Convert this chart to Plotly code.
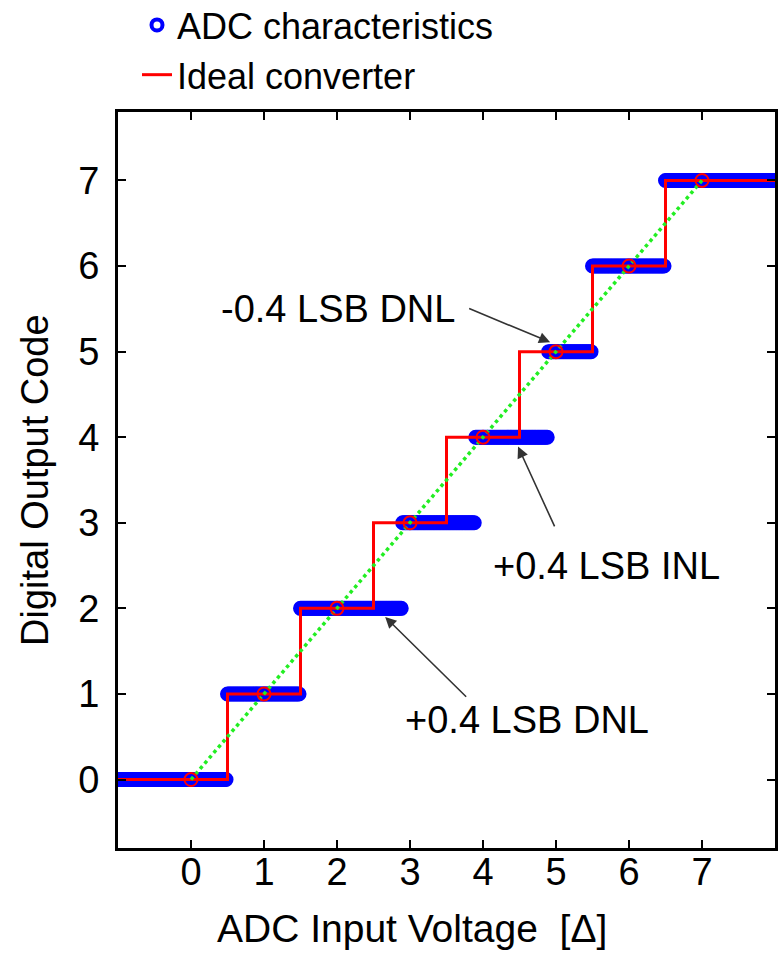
import numpy as np
import plotly.graph_objects as go

# ---- data ----
codes = [0, 1, 2, 3, 4, 5, 6, 7]
ideal_transitions = [0.5, 1.5, 2.5, 3.5, 4.5, 5.5, 6.5]
adc_transitions = [0.5, 1.5, 2.9, 3.9, 4.9, 5.5, 6.5]
x_min, x_max = -1.0, 8.0
sweep_step = 0.02

x_ticks = [0, 1, 2, 3, 4, 5, 6, 7]
y_ticks = [0, 1, 2, 3, 4, 5, 6, 7]

ann_texts = ["-0.4 LSB DNL", "+0.4 LSB INL", "+0.4 LSB DNL"]
ann_text_x = [2.01, 5.69, 4.60]
ann_text_y = [5.50, 2.50, 0.69]
arrow_tail_x = [3.79, 4.99, 3.79]
arrow_tail_y = [5.51, 2.94, 0.95]
arrow_tip_x = [4.92, 4.48, 2.66]
arrow_tip_y = [5.11, 3.89, 1.90]

# ADC sweep (input voltage -> output code)
vin = np.arange(x_min, x_max + 1e-9, sweep_step)
dout = np.searchsorted(adc_transitions, vin, side="right")

# ideal staircase points
ideal_x = [x_min] + ideal_transitions + [x_max]
ideal_y = [codes[0]] + codes[1:] + [codes[-1]]

FONT = "Liberation Sans, Arial, Helvetica, sans-serif"

fig = go.Figure()
fig.add_trace(go.Scatter(
    x=vin, y=dout, mode="markers", name="ADC characteristics",
    marker=dict(symbol="circle-open", size=11, color="#0000ff",
                line=dict(width=4, color="#0000ff")),
))
fig.add_trace(go.Scatter(
    x=ideal_x, y=ideal_y, mode="lines", name="Ideal converter",
    line=dict(color="#ff0000", width=3, shape="hv"),
))
fig.add_trace(go.Scatter(
    x=[codes[0], codes[-1]], y=[codes[0], codes[-1]], mode="lines",
    line=dict(color="#22ee22", width=3.5, dash="dot"), showlegend=False,
))
fig.add_trace(go.Scatter(
    x=codes, y=codes, mode="markers", showlegend=False,
    marker=dict(symbol="circle-open", size=13, color="#ff0000",
                line=dict(width=2, color="#ff0000")),
))

annotations = []
for t, tx, ty in zip(ann_texts, ann_text_x, ann_text_y):
    annotations.append(dict(x=tx, y=ty, xref="x", yref="y", text=t,
                            xanchor="center", yanchor="middle",
                            showarrow=False, font=dict(size=38, color="black", family=FONT)))
for ax_, ay_, x_, y_ in zip(arrow_tail_x, arrow_tail_y, arrow_tip_x, arrow_tip_y):
    annotations.append(dict(x=x_, y=y_, ax=ax_, ay=ay_, xref="x", yref="y",
                            axref="x", ayref="y", text="", showarrow=True,
                            arrowhead=2, arrowsize=1.4, arrowwidth=1.6,
                            arrowcolor="#333333", standoff=0, startstandoff=0))
annotations.append(dict(x=(411.5 - 118) / 657, y=-(928 - 848) / 736, xref="paper", yref="paper",
                        xanchor="center", yanchor="middle",
                        text="ADC Input Voltage \u00a0[\u0394]", showarrow=False,
                        font=dict(size=39, color="black", family=FONT)))
annotations.append(dict(x=(35 - 118) / 657, y=0.5, xref="paper", yref="paper",
                        xanchor="center", yanchor="middle",
                        text="Digital Output Code", textangle=-90, showarrow=False,
                        font=dict(size=38, color="black", family=FONT)))

axis_common = dict(showline=True, linecolor="black", linewidth=3, mirror="ticks",
                   ticks="inside", ticklen=8, tickwidth=2, tickcolor="black",
                   showgrid=False, zeroline=False,
                   tickfont=dict(size=38, color="black", family=FONT))

fig.update_layout(
    width=778, height=953,
    margin=dict(l=118, r=3, t=112, b=105, autoexpand=False),
    paper_bgcolor="white", plot_bgcolor="white",
    font=dict(family=FONT, color="black"),
    xaxis=dict(range=[x_min, x_max], tickvals=x_ticks, ticklabelstandoff=-12, **axis_common),
    yaxis=dict(range=[-0.8, 7.8], tickvals=y_ticks, ticklabelstandoff=8, **axis_common),
    showlegend=True,
    legend=dict(x=(137 - 118) / 657, y=1.159, xanchor="left", yanchor="top",
                font=dict(size=36, color="black", family=FONT),
                bgcolor="rgba(0,0,0,0)", tracegroupgap=0, itemwidth=30),
    annotations=annotations,
)

fig.write_html("out.html")
